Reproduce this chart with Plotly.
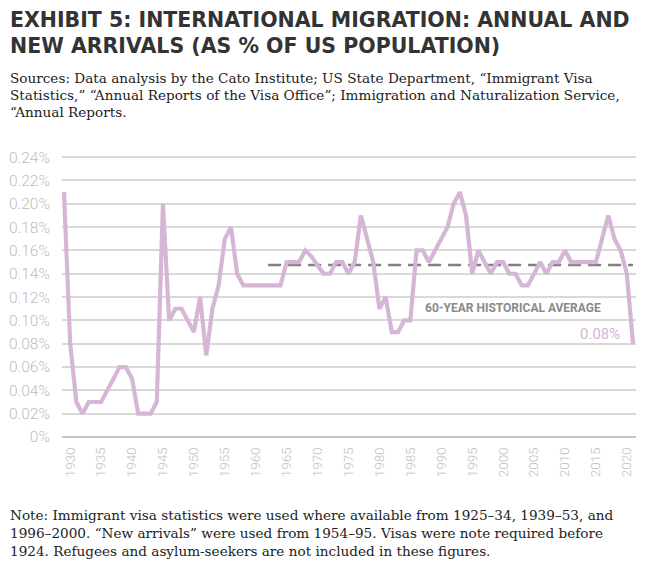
import plotly.graph_objects as go

# ---- data ----
years = list(range(1929, 2022))
share_pct = [
    0.21, 0.08, 0.03, 0.02, 0.03, 0.03, 0.03, 0.04, 0.05, 0.06,   # 1929-1938
    0.06, 0.05, 0.02, 0.02, 0.02, 0.03, 0.20, 0.10, 0.11, 0.11,   # 1939-1948
    0.10, 0.09, 0.12, 0.07, 0.11, 0.13, 0.17, 0.18, 0.14, 0.13,   # 1949-1958
    0.13, 0.13, 0.13, 0.13, 0.13, 0.13, 0.15, 0.15, 0.15, 0.16,   # 1959-1968
    0.155, 0.147, 0.14, 0.14, 0.15, 0.15, 0.14, 0.15, 0.19, 0.17, # 1969-1978
    0.15, 0.11, 0.12, 0.09, 0.09, 0.10, 0.10, 0.16, 0.16, 0.15,   # 1979-1988
    0.16, 0.17, 0.18, 0.20, 0.21, 0.19, 0.14, 0.16, 0.15, 0.14,   # 1989-1998
    0.15, 0.15, 0.14, 0.14, 0.13, 0.13, 0.14, 0.15, 0.14, 0.15,   # 1999-2008
    0.15, 0.16, 0.15, 0.15, 0.15, 0.15, 0.15, 0.17, 0.19, 0.17,   # 2009-2018
    0.16, 0.14, 0.08,                                             # 2019-2021
]
avg_years = years[-60:]
avg_value = sum(share_pct[-60:]) / 60.0

x_tick_vals = list(range(1930, 2021, 5))
y_tick_vals = [0, 0.02, 0.04, 0.06, 0.08, 0.10, 0.12, 0.14, 0.16, 0.18, 0.20, 0.22, 0.24]
y_tick_text = ["0%", "0.02%", "0.04%", "0.06%", "0.08%", "0.10%", "0.12%",
               "0.14%", "0.16%", "0.18%", "0.20%", "0.22%", "0.24%"]

title_lines = ["EXHIBIT 5: INTERNATIONAL MIGRATION: ANNUAL AND",
               "NEW ARRIVALS (AS % OF US POPULATION)"]
source_lines = [
    "Sources: Data analysis by the Cato Institute; US State Department, \u201cImmigrant Visa",
    "Statistics,\u201d \u201cAnnual Reports of the Visa Office\u201d; Immigration and Naturalization Service,",
    "\u201cAnnual Reports.",
]
note_lines = [
    "Note: Immigrant visa statistics were used where available from 1925\u201334, 1939\u201353, and",
    "1996\u20132000. \u201cNew arrivals\u201d were used from 1954\u201395. Visas were note required before",
    "1924. Refugees and asylum-seekers are not included in these figures.",
]
avg_label = "60-YEAR HISTORICAL AVERAGE"
last_label = "0.08%"

# ---- layout geometry ----
# The page puts the figure 8px in from the top-left corner, so reference pixel
# positions are shifted by OFF when converted to figure coordinates.
OFF = 8
W, H = 646 - OFF, 567 - OFF
L, R = 62 - OFF, 636 - OFF
TOP, BOT = 155.8 - OFF, 437 - OFF

def px(xp):
    return (xp - OFF - L) / (R - L)

def py(yp):
    return (BOT - (yp - OFF)) / (BOT - TOP)

LINE_COLOR = "#d6b6d6"
GRID = "#d9d9d9"
TICK_COLOR = "#bdbdbd"
BODY_FONT = dict(family="DejaVu Serif", size=13.6, color="#222222")

fig = go.Figure()
fig.add_trace(go.Scatter(
    x=avg_years, y=[avg_value] * len(avg_years), mode="lines",
    line=dict(color="#808080", width=2.4, dash="13px,7px"),
    hoverinfo="skip", showlegend=False,
))
fig.add_trace(go.Scatter(
    x=years, y=share_pct, mode="lines",
    line=dict(color=LINE_COLOR, width=4.2),
    showlegend=False, cliponaxis=False,
))

TEXT_X = px(OFF)
annotations = []
for t, yy in zip(title_lines, [20, 46]):
    annotations.append(dict(
        text=t, xref="paper", yref="paper", x=TEXT_X, y=py(yy),
        xanchor="left", yanchor="middle", showarrow=False,
        font=dict(family="DejaVu Sans", size=20.5, color="#333333", weight=600),
    ))
for t, yy in zip(source_lines, [78, 95, 112]):
    annotations.append(dict(
        text=t, xref="paper", yref="paper", x=TEXT_X, y=py(yy),
        xanchor="left", yanchor="middle", showarrow=False, font=BODY_FONT,
    ))
for t, yy in zip(note_lines, [515, 533, 551]):
    annotations.append(dict(
        text=t, xref="paper", yref="paper", x=TEXT_X, y=py(yy),
        xanchor="left", yanchor="middle", showarrow=False, font=BODY_FONT,
    ))
annotations.append(dict(
    text=avg_label, xref="paper", yref="paper", x=px(513), y=py(308),
    xanchor="center", yanchor="middle", showarrow=False,
    font=dict(family="Roboto", size=12, color="#8a8a8a", weight=700),
))
annotations.append(dict(
    text=last_label, xref="paper", yref="paper", x=px(622), y=py(334),
    xanchor="right", yanchor="middle", showarrow=False,
    font=dict(family="Roboto", size=15, color=LINE_COLOR),
))

fig.update_layout(
    width=W, height=H,
    margin=dict(l=L, r=W - R, t=TOP, b=H - BOT, autoexpand=False),
    paper_bgcolor="white", plot_bgcolor="white",
    annotations=annotations,
    xaxis=dict(
        automargin=False,
        range=[1929 - 2 / 6.185, 1929 + (636 - 64) / 6.185],
        tickmode="array", tickvals=x_tick_vals,
        tickangle=-90, showgrid=False, zeroline=False, showline=False,
        ticks="outside", ticklen=4, tickcolor="rgba(0,0,0,0)",
        tickfont=dict(family="Roboto", size=13.5, color=TICK_COLOR, weight=300),
    ),
    yaxis=dict(
        automargin=False,
        range=[0, 0.241],
        tickmode="array", tickvals=y_tick_vals, ticktext=y_tick_text,
        showgrid=True, gridcolor=GRID, gridwidth=1.5,
        zeroline=True, zerolinecolor="#c4c4c4", zerolinewidth=2,
        showline=False, ticks="outside", ticklen=8, tickcolor="rgba(0,0,0,0)",
        tickfont=dict(family="Roboto", size=15.5, color=TICK_COLOR, weight=300),
    ),
)

fig.write_html("out.html")
